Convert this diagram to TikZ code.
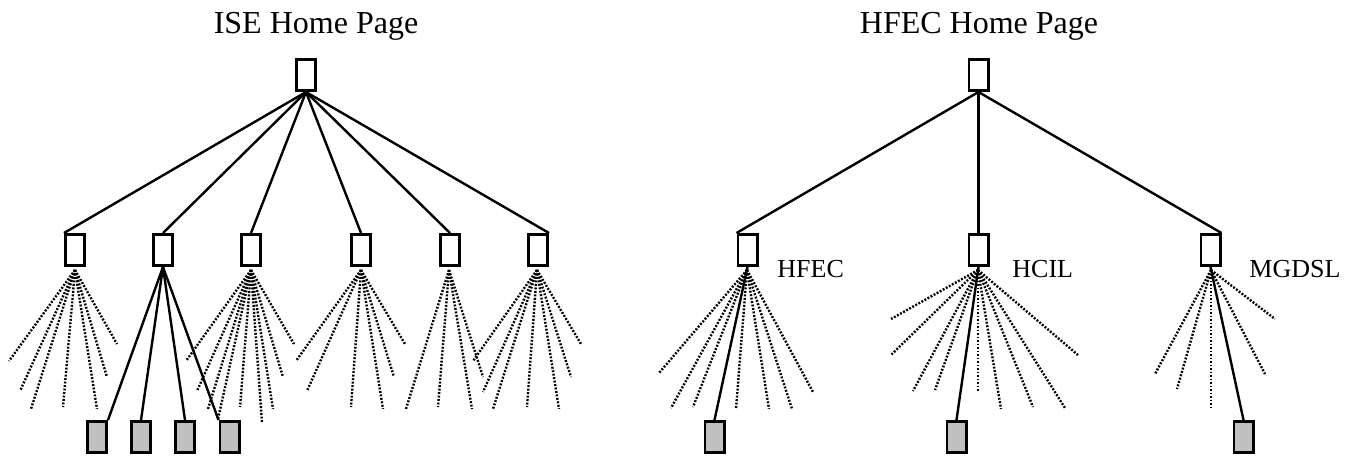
\documentclass[tikz,border=0pt]{standalone}
\usepackage{fontspec}
\setmainfont{Liberation Serif}
\definecolor{leafgray}{RGB}{192,192,192}
% dotted fan of links leaving a page: #1 = origin coordinate, #2 = list of x/y end points
\newcommand\drawfan[2]{%
  \foreach \ex/\ey [count=\k] in {#2} {%
    \coordinate (#1-\k) at (\ex,\ey);
    \draw[fanline] (#1) -- (#1-\k);
  }}
\begin{document}
\begin{tikzpicture}[x=0.5pt,y=-0.5pt,
  page/.style={draw,line width=1.4pt,minimum width=9.6pt,minimum height=15.6pt,inner sep=0pt,fill=white},
  leaf/.style={page,fill=leafgray},
  link/.style={line width=1.2pt},
  fanline/.style={line width=1.2pt,dash pattern=on 0.95pt off 0.8pt},
  title/.style={font=\fontsize{16}{19}\selectfont,anchor=base},
  tag/.style={font=\fontsize{13}{15}\selectfont,anchor=base west,inner sep=0pt}]
\useasboundingbox (0,0) rectangle (1351,457);

% ---------- ISE site ----------
\node[title] (iseT) at (316,33) {ISE Home Page};
\node[page] (ise) at (306,75) {};
\node[page] (a1) at (75,250) {};
\node[page] (a2) at (163,250) {};
\node[page] (a3) at (251,250) {};
\node[page] (a4) at (361,250) {};
\node[page] (a5) at (450,250) {};
\node[page] (a6) at (538,250) {};
\node[leaf] (b1) at (97,437) {};
\node[leaf] (b2) at (141,437) {};
\node[leaf] (b3) at (185,437) {};
\node[leaf] (b4) at (229.5,437) {};

\draw[link] (ise.south) -- (a1.north west);
\draw[link] (ise.south) -- (a2.north);
\draw[link] (ise.south) -- (a3.north);
\draw[link] (ise.south) -- (a4.north);
\draw[link] (ise.south) -- (a5.north);
\draw[link] (ise.south) -- (a6.north east);

\draw[link] (a2.south) -- (b1.north east);
\draw[link] (a2.south) -- (b2.north);
\draw[link] (a2.south) -- (b3.north);
\draw[link] (a2.south) -- (b4.north west);

\coordinate (fa1) at (75,270);
\coordinate (fa3) at (251,270);
\coordinate (fa4) at (361,270);
\coordinate (fa5) at (449,270);
\coordinate (fa6) at (537,270);
\drawfan{fa1}{9/361,20/391,31/409,63/407,97/409,107/377,117/344}
\drawfan{fa3}{186/361,197/391,208/409,218/419,240/407,262/422,273/409,283/377,294/344}
\drawfan{fa4}{296/361,307/391,351/407,383/409,394/377,405/344}
\drawfan{fa5}{406/409,438/407,472/409,483/377}
\drawfan{fa6}{473/361,483/392,493/409,527/407,559/409,571/377,581/344}

% ---------- HFEC site ----------
\node[title] (hfT) at (979,33) {HFEC Home Page};
\node[page] (hf) at (978.5,75) {};
\node[page] (c1) at (747.5,250) {};
\node[page] (c2) at (978.5,250) {};
\node[page] (c3) at (1210.5,250) {};
\node[tag] (c1t) at (777,277) {HFEC};
\node[tag] (c2t) at (1012,277) {HCIL};
\node[tag] (c3t) at (1249,277) {MGDSL};
\node[leaf] (d1) at (714.5,437) {};
\node[leaf] (d2) at (956.5,437) {};
\node[leaf] (d3) at (1243.5,437) {};

\draw[link] (hf.south) -- (c1.north west);
\draw[link] (hf.south) -- (c2.north);
\draw[link] (hf.south) -- (c3.north east);

\coordinate (fc1) at (747,270);
\coordinate (fc2) at (978,270);
\coordinate (fc3) at (1211,270);
\drawfan{fc1}{659/373,671/408,693/407,736/409,769/409,792/409,813/392}
\drawfan{fc2}{891/319,891/355,913/391,935/390,978/392,1001/409,1033/407,1065/408,1078/355}
\drawfan{fc3}{1155/374,1177/389,1211/408,1265/374,1275/319}

\draw[link] (c1.south) -- (d1.north);
\draw[link] (c2.south) -- (d2.north);
\draw[link] (c3.south) -- (d3.north);
\end{tikzpicture}
\end{document}
